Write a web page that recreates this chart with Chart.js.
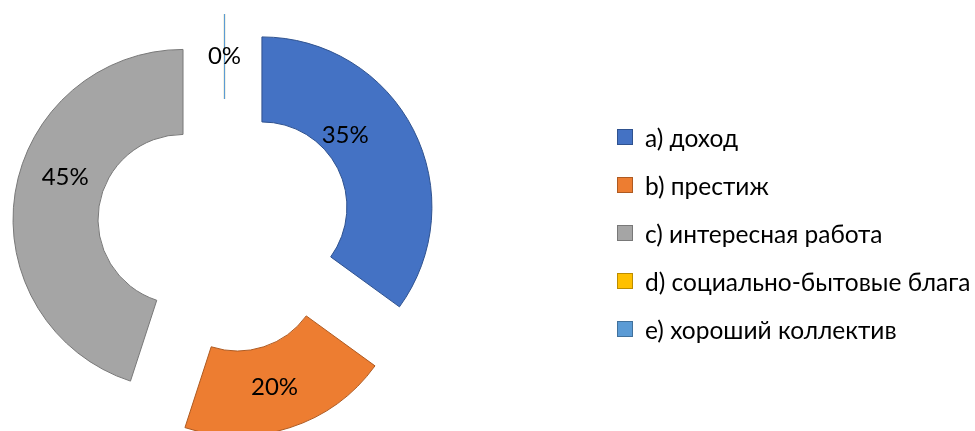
<!DOCTYPE html>
<html lang="ru">
<head>
<meta charset="utf-8">
<script src="https://cdn.jsdelivr.net/npm/chart.js@4.4.1/dist/chart.umd.min.js"></script>
<style>
  html, body { margin: 0; padding: 0; background: #fff; }
  #wrap { position: relative; width: 975px; height: 431px; overflow: hidden; }
  #chart { position: absolute; left: 0; top: 0; }
  #legend { position: absolute; left: 617px; top: 0; margin: 0; padding: 0; list-style: none;
            font-family: Lato, "Noto Sans", sans-serif; font-size: 24.5px; color: #000; }
  #legend li { position: absolute; left: 0; height: 30px; display: flex; align-items: center; white-space: nowrap; }
  #legend .box { width: 14px; height: 14px; border: 1px solid; margin-right: 12px; }
</style>
</head>
<body>
<div id="wrap">
  <canvas id="chart" width="975" height="431"></canvas>
  <ul id="legend"></ul>
</div>
<script>
"use strict";

// data
const labels = ["a) доход", "b) престиж", "c) интересная работа", "d) социально-бытовые блага", "e) хороший коллектив"];
const shares = [35, 20, 45, 0, 0];

// look
const fillColors = ["#4472C4", "#ED7D31", "#A5A5A5", "#FFC000", "#5B9BD5"];
const edgeColors = ["#2F528F", "#AE5A21", "#787878", "#BC8C00", "#41719C"];
const explode = 42;                        // px each slice is pulled out
const labelTurn = [-13.6, 1, 10.5, 0, 0];  // degrees, nudge of the % label along the ring
const labelDepth = [0.29, 0.49, 0.47, 0.5, 0.5]; // 0 = inner edge, 1 = outer edge
const fontFamily = 'Lato, "Noto Sans", sans-serif';

// how much chart.js pushes the radius of an offset arc when drawing it
function ringGrow(arc) {
  if (arc.circumference === 0) return 0;
  return explode * (1 - Math.sin(Math.min(Math.PI, arc.circumference)));
}

// take that push (and the small angle trim that comes with it) back,
// so all slices share one ring and keep their full angle
const keepRing = {
  id: "keepRing",
  afterDatasetUpdate(chart, args) {
    chart.getDatasetMeta(args.index).data.forEach(arc => {
      const grow = ringGrow(arc);
      if (!grow) return;
      const trim = grow / (2 * Math.PI * arc.outerRadius);
      arc.outerRadius -= grow;
      arc.innerRadius -= grow;
      arc.startAngle -= trim;
      arc.endAngle += trim;
    });
  }
};

// zero slices are not drawn by chart.js, excel shows them as a thin line
const zeroSlices = {
  id: "zeroSlices",
  afterDatasetsDraw(chart) {
    const ctx = chart.ctx;
    chart.getDatasetMeta(0).data.forEach((arc, i) => {
      if (shares[i] !== 0) return;
      const a = arc.startAngle;
      const cx = arc.x + Math.cos(a) * explode;
      const cy = arc.y + Math.sin(a) * explode;
      ctx.save();
      ctx.strokeStyle = fillColors[i];
      ctx.lineWidth = 1.2;
      ctx.beginPath();
      ctx.moveTo(cx + Math.cos(a) * arc.innerRadius, cy + Math.sin(a) * arc.innerRadius);
      ctx.lineTo(cx + Math.cos(a) * arc.outerRadius, cy + Math.sin(a) * arc.outerRadius);
      ctx.stroke();
      ctx.restore();
    });
  }
};

const sliceLabels = {
  id: "sliceLabels",
  afterDatasetsDraw(chart) {
    const ctx = chart.ctx;
    const done = [];
    ctx.save();
    ctx.font = "24px " + fontFamily;
    ctx.fillStyle = "#000";
    ctx.textAlign = "center";
    ctx.textBaseline = "middle";
    chart.getDatasetMeta(0).data.forEach((arc, i) => {
      const mid = (arc.startAngle + arc.endAngle) / 2;
      const key = mid.toFixed(3);
      if (done.includes(key)) return;
      done.push(key);
      const grow = ringGrow(arc);
      const inner = arc.innerRadius + grow;
      const outer = arc.outerRadius + grow;
      const a = mid + labelTurn[i] * Math.PI / 180;
      const r = inner + labelDepth[i] * (outer - inner);
      const x = arc.x + Math.cos(mid) * explode + Math.cos(a) * r;
      const y = arc.y + Math.sin(mid) * explode + Math.sin(a) * r;
      ctx.fillText(shares[i] + "%", x, y);
    });
    ctx.restore();
  }
};

const chart = new Chart(document.getElementById("chart"), {
  type: "doughnut",
  data: {
    labels: labels,
    datasets: [{
      data: shares,
      backgroundColor: fillColors,
      borderColor: edgeColors,
      borderWidth: 1,
      offset: explode * 4
    }]
  },
  options: {
    responsive: false,
    animation: false,
    events: [],
    radius: 170,
    cutout: "50%",
    layout: { padding: { left: 0, right: 526, top: 21, bottom: 0 } },
    plugins: {
      legend: { display: false },
      tooltip: { enabled: false }
    }
  },
  plugins: [keepRing, zeroSlices, sliceLabels]
});

// legend as html, items taken from chart.js
const legendEl = document.getElementById("legend");
chart.options.plugins.legend.labels.generateLabels(chart).forEach((item, i) => {
  const li = document.createElement("li");
  li.style.top = (122 + i * 48) + "px";
  const box = document.createElement("span");
  box.className = "box";
  box.style.background = item.fillStyle;
  box.style.borderColor = item.strokeStyle;
  li.appendChild(box);
  li.appendChild(document.createTextNode(item.text));
  legendEl.appendChild(li);
});
</script>
</body>
</html>
